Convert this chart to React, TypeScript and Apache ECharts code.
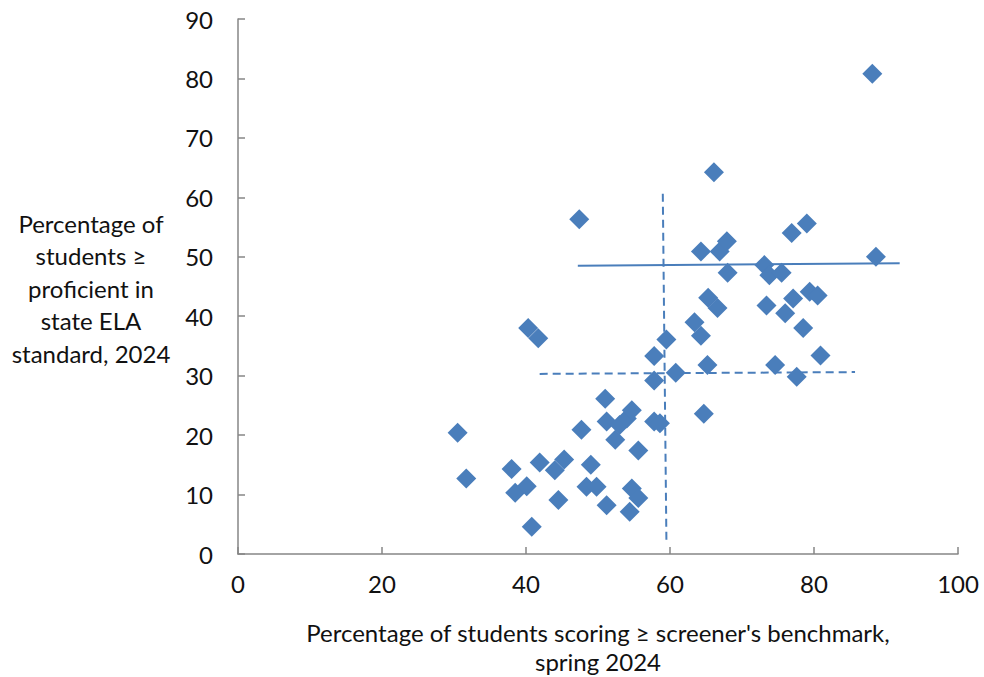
import React, { useEffect, useRef } from "react";
import * as echarts from "echarts";

// Scatter points: [screener %, state ELA proficient %]
const screenerPct: number[] = [
  30.5, 31.7, 38.0, 38.5, 40.1, 40.8, 40.3, 41.7, 41.9, 44.0, 45.3, 44.5, 47.4, 47.7, 48.4, 49.0,
  49.8, 51.0, 51.2, 51.2, 52.4, 53.0, 54.0, 54.7, 54.7, 54.4, 55.6, 55.6, 57.8, 58.6, 57.8, 57.8,
  59.5, 60.8, 63.4, 64.3, 64.7, 65.2, 65.3, 66.6, 64.3, 66.9, 67.9, 68.0, 66.1, 73.1, 73.8, 75.5,
  76.9, 79.0, 73.4, 77.1, 76.0, 79.4, 80.5, 78.5, 80.9, 74.6, 77.6, 88.6, 88.1,
];
const proficientPct: number[] = [
  20.4, 12.7, 14.3, 10.3, 11.4, 4.6, 38.0, 36.3, 15.4, 14.1, 15.9, 9.1, 56.3, 20.9, 11.3, 15.0,
  11.3, 26.1, 22.3, 8.2, 19.2, 21.7, 22.8, 24.2, 11.0, 7.1, 17.4, 9.4, 22.3, 22.0, 29.2, 33.3,
  36.1, 30.5, 39.0, 36.7, 23.6, 31.8, 43.1, 41.4, 50.9, 50.9, 52.6, 47.3, 64.2, 48.6, 46.9, 47.3,
  54.0, 55.6, 41.8, 43.0, 40.5, 44.1, 43.5, 38.0, 33.4, 31.8, 29.8, 50.0, 80.8,
];

// Reference lines
const solidLineX: number[] = [47.2, 91.9];
const solidLineY: number[] = [48.5, 48.9];
const dashedHLineX: number[] = [41.9, 85.7];
const dashedHLineY: number[] = [30.3, 30.6];
const dashedVLineX: number[] = [59.0, 59.5];
const dashedVLineY: number[] = [60.6, 2.4];

const xTicks = { min: 0, max: 100, interval: 20 };
const yTicks = { min: 0, max: 90, interval: 10 };

const xTitle = "Percentage of students scoring ≥ screener's benchmark,\nspring 2024";
const yTitle = "Percentage of\nstudents ≥\nproficient in\nstate ELA\nstandard, 2024";

const BLUE = "#4A7EBB";
const AXIS = "#868686";
const FONT = "Lato, 'Open Sans', sans-serif";

const zip = (a: number[], b: number[]) => a.map((v, i) => [v, b[i]]);

export default function App() {
  const ref = useRef<HTMLDivElement>(null);
  useEffect(() => {
    if (!ref.current) return;
    const chart = echarts.init(ref.current, undefined, { renderer: "svg" });
    const axisCommon = {
      type: "value" as const,
      axisLine: { show: true, lineStyle: { color: AXIS, width: 1.5 } },
      axisTick: { show: true, inside: true, length: 7, lineStyle: { color: AXIS, width: 1.5 } },
      splitLine: { show: false },
      axisLabel: { color: "#111", fontSize: 24, fontFamily: FONT },
    };
    chart.setOption({
      animation: false,
      backgroundColor: "#fff",
      grid: { left: 238, right: 26, top: 19, bottom: 123, containLabel: false },
      xAxis: { ...axisCommon, ...xTicks, axisLabel: { ...axisCommon.axisLabel, margin: 17 } },
      yAxis: { ...axisCommon, ...yTicks, axisLabel: { ...axisCommon.axisLabel, margin: 25 } },
      graphic: [
        {
          type: "text",
          x: 598,
          y: 618,
          style: {
            text: xTitle,
            fontSize: 24,
            fontFamily: FONT,
            fill: "#111",
            align: "center",
            lineHeight: 29,
          },
        },
        {
          type: "text",
          x: 91,
          y: 207,
          style: {
            text: yTitle,
            fontSize: 24,
            fontFamily: FONT,
            fill: "#111",
            align: "center",
            lineHeight: 32.5,
          },
        },
      ],
      series: [
        {
          type: "line",
          data: zip(solidLineX, solidLineY),
          symbol: "none",
          lineStyle: { color: BLUE, width: 2 },
          z: 1,
        },
        {
          type: "line",
          data: zip(dashedHLineX, dashedHLineY),
          symbol: "none",
          lineStyle: { color: BLUE, width: 2, type: [8, 5] },
          z: 1,
        },
        {
          type: "line",
          data: zip(dashedVLineX, dashedVLineY),
          symbol: "none",
          lineStyle: { color: BLUE, width: 2, type: [8, 5] },
          z: 1,
        },
        {
          type: "scatter",
          data: zip(screenerPct, proficientPct),
          symbol: "diamond",
          symbolSize: 20,
          itemStyle: { color: BLUE, opacity: 1 },
          z: 2,
        },
      ],
    });
    return () => chart.dispose();
  }, []);
  return (
    <div
      ref={ref}
      style={{ position: "fixed", left: 0, top: 0, width: 984, height: 677, background: "#fff" }}
    />
  );
}
